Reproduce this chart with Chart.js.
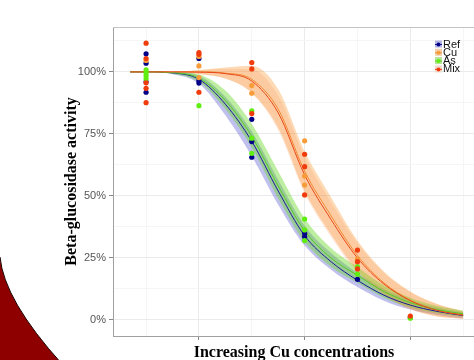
<!DOCTYPE html>
<html>
<head>
<meta charset="utf-8">
<script src="https://cdn.jsdelivr.net/npm/chart.js@4/dist/chart.umd.min.js"></script>
<style>
  html, body { margin: 0; padding: 0; background: #fff; overflow: hidden; }
  #wrap { position: relative; width: 479px; height: 375px; }
</style>
</head>
<body>
<div id="wrap"><canvas id="chart"></canvas></div>
<script>
// dose levels (position on the x axis, no labels shown)
var doseLevels = [0, 1, 2, 3, 4, 5];
var seriesNames = ['Ref', 'Cu', 'As', 'Mix'];

// observed activity (%), one sub-array per dose level
var refObs = [[107.3, 103.5, 96, 91.8], [105.4, 96.4, 95.5], [80.9, 71.9, 65.6], [35, 33.6], [16.4], [1.0]];
var cuObs  = [[104.6], [106.2, 102.4, 97.7], [94.5, 91.4], [72.2, 58, 54.4], [24.5], [1.2]];
var asObs  = [[100.8, 99.6, 98.4, 97.2], [86.4], [84.3, 73.3, 67.2], [40.7, 36.3, 32], [21.5, 18.5], [0.7]];
var mixObs = [[111.6, 105.4, 95.6, 93.4, 87.6], [107.8, 107.1, 91.8], [103.8, 101.2, 83.2], [66.8, 61.8, 50.4], [28.2, 23.5, 20.6], [1.6]];

// fitted curves and confidence bands, read at these x positions
var curveX = [-0.3, 0, 0.5, 1, 1.5, 2, 2.5, 3, 3.5, 4, 4.5, 5, 5.5, 6];
var refFit = [100, 100, 99.6, 97, 87, 72, 52, 34, 23.5, 16, 10, 6, 3.5, 1.8];
var refHi  = [100, 100, 100, 98.5, 90, 76, 56.5, 38, 27, 19, 12.5, 8, 5, 3];
var refLo  = [100, 100, 99.1, 95.3, 82.5, 66, 46.5, 30, 20.3, 13.3, 7.8, 4.2, 2, 0.6];
var asFit  = [100, 100, 99.7, 97.5, 88.5, 74, 54, 36, 25, 18, 11.5, 7, 4.2, 2.5];
var asHi   = [100, 100, 100, 99, 92.5, 79, 60, 41, 29, 21.3, 14, 9, 5.7, 3.7];
var asLo   = [100, 100, 99.3, 96, 85, 69.5, 49, 31.5, 21.5, 15, 9, 5, 2.7, 1.3];
var cuFit  = [100, 100, 100, 100, 99.5, 97, 85, 60, 42, 26, 15, 8, 4, 2];
var cuHi   = [100, 100, 100, 100.8, 101.8, 102.5, 93, 68, 49.5, 32, 19.5, 11.5, 6.5, 3.5];
var cuLo   = [100, 100, 100, 99.2, 97.3, 91.5, 77.5, 52, 34.5, 20, 10.5, 4.5, 1.5, 0.5];
var mixFit = [100, 100, 100, 99.9, 99.3, 96.3, 83.5, 58.5, 40.5, 25, 14.5, 7.8, 3.9, 2];
var mixHi  = [100, 100, 100, 100.7, 101.3, 101, 90.5, 66, 47.5, 31, 19, 11.3, 6.4, 3.5];
var mixLo  = [100, 100, 100, 99.1, 97.3, 91.5, 76.5, 51, 33.5, 19, 10, 4.3, 1.4, 0.5];

var yTicks = [0, 12.5, 25, 37.5, 50, 62.5, 75, 87.5, 100, 112.5];
var xTicks = [0, 1, 2, 3, 4, 5, 6];

var pointColors = ['#000088', '#f89c3a', '#5fee10', '#f03c0c'];
var lineColors  = ['#1a1a99', '#f08a30', '#55cc22', '#e8461a'];
var bandColors  = ['rgba(90,90,210,0.38)', 'rgba(250,155,55,0.36)', 'rgba(100,215,30,0.42)', 'rgba(250,140,70,0.2)'];

function curve(ys) {
  return ys.map(function (y, i) { return { x: curveX[i], y: y }; });
}
function scatterPts(groups) {
  var out = [];
  groups.forEach(function (vals, d) {
    vals.forEach(function (v) { out.push({ x: doseLevels[d], y: v }); });
  });
  return out;
}

var fits = [refFit, cuFit, asFit, mixFit];
var his = [refHi, cuHi, asHi, mixHi];
var los = [refLo, cuLo, asLo, mixLo];
var obs = [refObs, cuObs, asObs, mixObs];

var datasets = [];
// points, Mix on top
for (var i = 0; i < 4; i++) {
  datasets.push({
    label: seriesNames[i],
    data: scatterPts(obs[i]),
    backgroundColor: pointColors[i],
    borderWidth: 0,
    pointRadius: 2.6,
    showLine: false,
    order: 3 - i
  });
}
// fitted lines
for (var i = 0; i < 4; i++) {
  datasets.push({
    label: seriesNames[i] + ' fit',
    data: curve(fits[i]),
    borderColor: lineColors[i],
    borderWidth: 1,
    pointRadius: 0,
    showLine: true,
    cubicInterpolationMode: 'monotone',
    fill: false,
    order: 10 - i
  });
}
// bands: upper followed by lower
var bandOrder = [23, 21, 19, 17];
for (var i = 0; i < 4; i++) {
  datasets.push({
    label: seriesNames[i] + ' hi',
    data: curve(his[i]),
    borderWidth: 0,
    pointRadius: 0,
    showLine: true,
    cubicInterpolationMode: 'monotone',
    backgroundColor: bandColors[i],
    fill: '+1',
    order: bandOrder[i]
  });
  datasets.push({
    label: seriesNames[i] + ' lo',
    data: curve(los[i]),
    borderWidth: 0,
    pointRadius: 0,
    showLine: true,
    cubicInterpolationMode: 'monotone',
    fill: false,
    order: bandOrder[i] - 1
  });
}

var decor = {
  id: 'decor',
  beforeDraw: function (chart) {
    var c = chart.ctx;
    c.save();
    c.fillStyle = '#8e0000';
    c.beginPath();
    c.moveTo(0, 257);
    c.quadraticCurveTo(4, 300, 62, 364);
    c.lineTo(0, 364);
    c.closePath();
    c.fill();
    c.strokeStyle = '#1a0000';
    c.lineWidth = 1;
    c.beginPath();
    c.moveTo(0, 257);
    c.quadraticCurveTo(4, 300, 62, 364);
    c.stroke();
    c.restore();
  },
  afterDraw: function (chart) {
    var c = chart.ctx, a = chart.chartArea;
    c.save();
    // top panel border
    c.strokeStyle = '#c4c4c4';
    c.lineWidth = 1;
    c.beginPath();
    c.moveTo(a.left, a.top + 0.5);
    c.lineTo(a.right, a.top + 0.5);
    c.stroke();
    // legend
    c.font = '11px "Liberation Sans", Arial, sans-serif';
    c.textBaseline = 'middle';
    for (var i = 0; i < 4; i++) {
      var y = 44 + i * 8.3;
      c.fillStyle = '#eeeeee';
      c.fillRect(435, y - 3.5, 7, 7);
      c.fillStyle = bandColors[i];
      c.fillRect(435, y - 3.5, 7, 7);
      c.strokeStyle = lineColors[i];
      c.beginPath();
      c.moveTo(435, y + 0.5);
      c.lineTo(442, y + 0.5);
      c.stroke();
      c.fillStyle = pointColors[i];
      c.beginPath();
      c.arc(438.5, y + 0.5, 2, 0, Math.PI * 2);
      c.fill();
      c.fillStyle = '#111';
      c.fillText(seriesNames[i], 443, y + 0.5);
    }
    c.restore();
  }
};

new Chart(document.getElementById('chart'), {
  type: 'scatter',
  data: { datasets: datasets },
  options: {
    responsive: true,
    maintainAspectRatio: false,
    animation: false,
    layout: { padding: { top: 27, right: 0, left: 0, bottom: 0 } },
    plugins: { legend: { display: false }, tooltip: { enabled: false } },
    scales: {
      x: {
        type: 'linear',
        min: -0.626,
        max: 6.224,
        afterBuildTicks: function (s) { s.ticks = xTicks.map(function (v) { return { value: v }; }); },
        afterFit: function (s) { s.height = 39; },
        ticks: { display: false },
        grid: {
          color: function (ctx) { return ctx.tick && ctx.tick.value % 2 === 1 ? '#ebebeb' : '#f5f5f5'; },
          tickColor: function (ctx) { return ctx.tick && ctx.tick.value % 2 === 1 ? '#888' : 'rgba(0,0,0,0)'; },
          tickLength: 4
        },
        border: { color: '#a0a0a0' },
        title: {
          display: true,
          text: 'Increasing Cu concentrations',
          color: '#000',
          font: { family: '"Liberation Serif", "Times New Roman", serif', size: 16, weight: 'bold' },
          padding: { top: 0, bottom: 13 }
        }
      },
      y: {
        min: -6.45,
        max: 118.1,
        afterBuildTicks: function (s) { s.ticks = yTicks.map(function (v) { return { value: v }; }); },
        afterFit: function (s) { s.width = 113; },
        ticks: {
          autoSkip: false,
          padding: 3,
          color: '#555',
          font: { family: '"Liberation Sans", Arial, sans-serif', size: 11 },
          callback: function (v) { return v % 25 === 0 ? v + '%' : ''; }
        },
        grid: {
          color: function (ctx) { return ctx.tick && ctx.tick.value % 25 === 0 ? '#ebebeb' : '#f5f5f5'; },
          tickColor: function (ctx) { return ctx.tick && ctx.tick.value % 25 === 0 ? '#888' : 'rgba(0,0,0,0)'; },
          tickLength: 4
        },
        border: { color: '#a0a0a0' },
        title: {
          display: true,
          text: 'Beta-glucosidase activity',
          color: '#000',
          font: { family: '"Liberation Serif", "Times New Roman", serif', size: 16, weight: 'bold' },
          padding: { top: 62, bottom: 0 }
        }
      }
    }
  },
  plugins: [decor]
});
</script>
</body>
</html>
